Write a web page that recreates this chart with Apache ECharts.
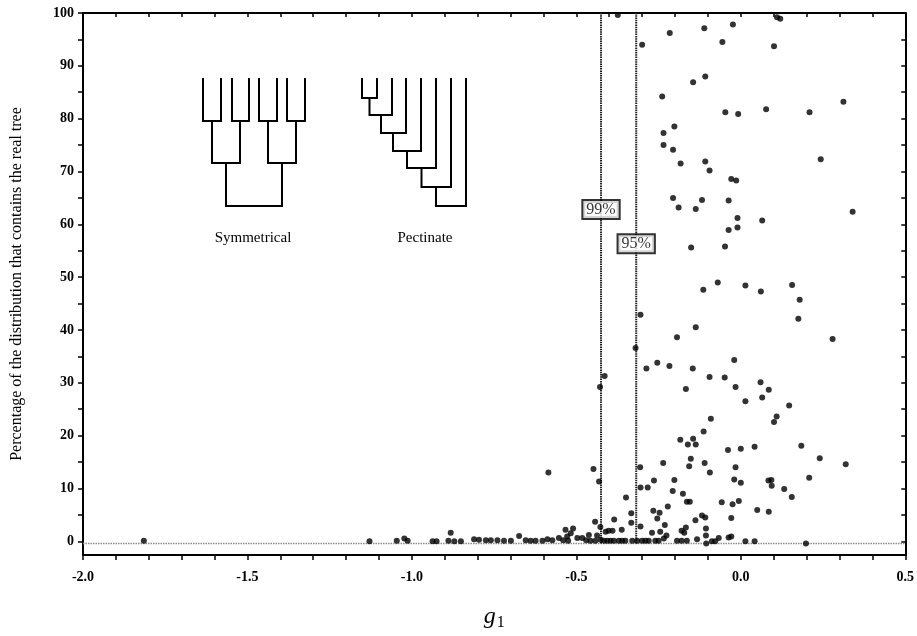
<!DOCTYPE html>
<html>
<head>
<meta charset="utf-8">
<script src="https://cdn.jsdelivr.net/npm/echarts@6/dist/echarts.min.js"></script>
<style>html,body{margin:0;padding:0;background:#fff}#c{width:917px;height:636px}</style>
</head>
<body>
<div id="c"></div>
<script>
// g1 statistic of each tree
const g1Values = [
 -0.374, 0.110, 0.120, -0.024, -0.111, -0.216, -0.056, -0.300, 0.101, -0.108,
 -0.145, -0.239, 0.312, 0.077, -0.047, -0.008, 0.209, -0.202, -0.235, -0.235,
 -0.206, -0.183, -0.108, 0.243, -0.095, -0.029, -0.014, -0.206, -0.118, -0.037,
 -0.189, -0.137, 0.340, -0.010, 0.065, -0.010, -0.037, -0.151, -0.048, -0.070,
 0.014, 0.156, -0.114, 0.061, 0.179, -0.305, 0.175, -0.137, -0.194, 0.279,
 -0.320, -0.020, -0.254, -0.217, -0.287, -0.146, -0.414, -0.095, -0.049, 0.060,
 -0.428, -0.167, -0.016, 0.085, 0.065, 0.014, 0.147, -0.091, 0.109, 0.101,
 -0.113, -0.184, -0.161, -0.145, -0.137, 0.184, -0.039, 0.000, 0.042, 0.240,
 -0.152, 0.319, -0.236, -0.110, -0.448, -0.306, -0.157, -0.016, -0.585, -0.094,
 -0.431, -0.020, 0.208, -0.264, -0.202, 0.000, 0.084, 0.093, 0.094, -0.305,
 -0.283, 0.132, -0.207, -0.176, 0.155, -0.349, -0.164, -0.155, -0.058, -0.025,
 -0.006, -0.222, 0.050, 0.085, -0.266, -0.247, -0.333, -0.254, -0.118, -0.108,
 -0.029, -0.385, -0.443, -0.138, -0.333, -0.231, -0.305, -0.167, -0.106, -0.362,
 -0.402, -0.390, -0.180, -0.245, -0.270, -0.172, -0.226, -0.106, -0.037, -0.029,
 -0.067, -0.437, -0.427, -0.411, -0.462, -0.533, -0.510, -0.517, -0.528, -0.133,
 -1.815, -1.129, -1.046, -1.023, -1.013, -0.937, -0.925, -0.889, -0.882, -0.871,
 -0.851, -0.811, -0.796, -0.775, -0.760, -0.740, -0.720, -0.699, -0.674, -0.654,
 -0.639, -0.624, -0.603, -0.588, -0.573, -0.553, -0.540, -0.525, -0.497, -0.482,
 -0.470, -0.457, -0.442, -0.426, -0.416, -0.406, -0.396, -0.386, -0.371, -0.361,
 -0.351, -0.330, -0.315, -0.300, -0.290, -0.280, -0.260, -0.250, -0.234, -0.194,
 -0.180, -0.164, -0.105, -0.088, -0.078, 0.014, 0.042, 0.198
];
// percentage of the distribution that contains the real tree
const pctValues = [
 99.6, 99.2, 98.9, 97.8, 97.1, 96.2, 94.5, 94.0, 93.7, 88.0,
 86.9, 84.2, 83.2, 81.8, 81.2, 80.9, 81.2, 78.5, 77.3, 75.0,
 74.1, 71.5, 71.9, 72.3, 70.2, 68.6, 68.3, 65.0, 64.6, 64.5,
 63.2, 62.9, 62.4, 61.2, 60.7, 59.4, 58.9, 55.6, 55.8, 49.0,
 48.4, 48.5, 47.6, 47.3, 45.7, 42.9, 42.1, 40.5, 38.6, 38.3,
 36.6, 34.3, 33.8, 33.2, 32.7, 32.7, 31.3, 31.1, 31.0, 30.1,
 29.2, 28.8, 29.2, 28.7, 27.2, 26.5, 25.7, 23.2, 23.6, 22.6,
 20.8, 19.2, 18.3, 19.4, 18.3, 18.1, 17.3, 17.5, 17.9, 15.7,
 15.6, 14.6, 14.8, 14.8, 13.7, 14.0, 14.2, 14.0, 13.0, 13.0,
 11.3, 11.7, 12.0, 11.5, 11.6, 11.1, 11.5, 11.6, 10.5, 10.2,
 10.2, 9.9, 9.5, 9.0, 8.4, 8.3, 7.5, 7.5, 7.4, 7.0,
 7.6, 6.6, 5.9, 5.6, 5.8, 5.4, 5.3, 4.3, 4.9, 4.5,
 4.4, 4.1, 3.7, 4.0, 3.5, 3.1, 2.8, 2.6, 2.4, 2.2,
 2.0, 2.0, 2.0, 1.8, 1.6, 1.6, 1.1, 1.1, 0.7, 0.9,
 0.6, 1.1, 2.7, 1.8, 1.2, 2.2, 2.4, 1.5, 0.9, 0.4,
 0.1, 0.0, 0.1, 0.5, 0.1, 0.0, 0.0, 0.1, 1.6, 0.0,
 0.0, 0.4, 0.3, 0.2, 0.2, 0.2, 0.1, 0.1, 1.0, 0.2,
 0.1, 0.1, 0.1, 0.4, 0.2, 0.6, 0.2, 0.1, 0.6, 0.6,
 0.2, 0.1, 0.1, 0.3, 0.1, 0.1, 0.1, 0.1, 0.1, 0.1,
 0.1, 0.1, 0.1, 0.1, 0.1, 0.1, 0.1, 0.1, 0.5, 0.1,
 0.1, 0.1, -0.4, 0.0, 0.0, 0.0, 0.0, -0.4
];
// critical values of g1
const criticalG1 = [-0.425, -0.318];
const criticalLabels = ['99%', '95%'];
const criticalLabelPct = [62.8, 56.3];
const baselinePct = -0.4;
// axis ticks
const xLabelValues = [-2.0, -1.5, -1.0, -0.5, 0.0, 0.5];
const xTickValues = [-2.0,-1.9,-1.8,-1.7,-1.6,-1.5,-1.4,-1.3,-1.2,-1.1,-1.0,-0.9,-0.8,-0.7,-0.6,-0.5,-0.4,-0.3,-0.2,-0.1,0.0,0.1,0.2,0.3,0.4,0.5];
const yLabelValues = [0,10,20,30,40,50,60,70,80,90,100];
const yTickValues = [0,5,10,15,20,25,30,35,40,45,50,55,60,65,70,75,80,85,90,95,100];
const treeNames = ['Symmetrical', 'Pectinate'];

const SERIF = '"Liberation Serif","DejaVu Serif",serif';
const chart = echarts.init(document.getElementById('c'), null, {renderer: 'canvas'});
const points = g1Values.map((g, i) => [g, pctValues[i]]);

const series = [
  {
    type: 'line', data: [[-2, baselinePct], [0.5, baselinePct]],
    symbol: 'none', silent: true, z: 1,
    lineStyle: {color: '#8a8a8a', width: 1.5, type: [1.5, 1]}
  }
];
criticalG1.forEach((g, i) => {
  series.push({
    type: 'line', data: [[g, baselinePct], [g, 100]],
    symbol: 'none', silent: true, z: 2,
    lineStyle: {color: '#222', width: 2, type: [1.5, 0.8]}
  });
});
series.push({
  type: 'scatter', data: points, symbol: 'circle', symbolSize: 6, z: 5,
  itemStyle: {color: '#000'}
});
series.push({
  type: 'scatter', z: 6,
  data: criticalG1.map((g, i) => ({value: [g, criticalLabelPct[i]], label: {formatter: criticalLabels[i]}})),
  symbolSize: 0,
  label: {
    show: true, position: 'inside', color: '#000', fontFamily: SERIF, fontSize: 16,
    backgroundColor: '#fff', borderColor: '#000', borderWidth: 2, padding: [1, 3, 0, 3]
  }
});

function U(pts){ return {type: 'polyline', shape: {points: pts}, style: {stroke: '#000', lineWidth: 2, fill: null}}; }
const treeGraphics = [
  U([[203,78],[203,121],[221,121],[221,78]]),
  U([[232,78],[232,121],[249,121],[249,78]]),
  U([[259,78],[259,121],[277,121],[277,78]]),
  U([[287,78],[287,121],[305,121],[305,78]]),
  U([[212,121],[212,163],[240,163],[240,121]]),
  U([[268,121],[268,163],[296,163],[296,121]]),
  U([[226,163],[226,206],[282,206],[282,163]]),
  U([[362,78],[362,98],[377,98],[377,78]]),
  U([[369.5,98],[369.5,115],[392,115],[392,78]]),
  U([[381,115],[381,133],[406,133],[406,78]]),
  U([[393,133],[393,151],[421,151],[421,78]]),
  U([[407,151],[407,168],[436,168],[436,78]]),
  U([[421.5,168],[421.5,187],[451,187],[451,78]]),
  U([[436,187],[436,206],[466,206],[466,78]]),
  {type: 'text', x: 253, y: 238, style: {text: treeNames[0], font: '15px ' + SERIF, fill: '#000', align: 'center', verticalAlign: 'middle'}},
  {type: 'text', x: 425, y: 238, style: {text: treeNames[1], font: '15px ' + SERIF, fill: '#000', align: 'center', verticalAlign: 'middle'}}
];

const axisLine = {show: true, onZero: false, lineStyle: {color: '#000', width: 2}};
chart.setOption({
  animation: false,
  backgroundColor: '#fff',
  grid: {left: 83, right: 10, top: 13, bottom: 74, containLabel: false},
  xAxis: [
    {
      type: 'value', min: -2, max: 0.5, interval: 0.5, position: 'bottom',
      axisLine: axisLine, splitLine: {show: false},
      axisTick: {show: true, inside: false, length: 5, lineStyle: {color: '#000', width: 1.5}, customValues: xTickValues},
      axisLabel: {color: '#000', fontFamily: SERIF, fontWeight: 'bold', fontSize: 14, margin: 15,
        customValues: xLabelValues, formatter: v => v.toFixed(1)},
      name: '{g|g}{s|1}', nameLocation: 'middle', nameGap: 48,
      nameTextStyle: {rich: {
        g: {fontFamily: SERIF, fontStyle: 'italic', fontSize: 24, color: '#000'},
        s: {fontFamily: SERIF, fontSize: 16, color: '#000', verticalAlign: 'bottom', padding: [12, 0, 0, 1]}
      }}
    },
    {
      type: 'value', min: -2, max: 0.5, interval: 0.5, position: 'top',
      axisLine: axisLine, splitLine: {show: false},
      axisTick: {show: true, inside: true, length: 4, lineStyle: {color: '#000', width: 1.5}, customValues: xTickValues},
      axisLabel: {show: false}
    }
  ],
  yAxis: [
    {
      type: 'value', min: -2.6, max: 100, position: 'left',
      axisLine: axisLine, splitLine: {show: false},
      axisTick: {show: true, inside: false, length: 5, lineStyle: {color: '#000', width: 1.5}, customValues: yTickValues},
      axisLabel: {color: '#000', fontFamily: SERIF, fontWeight: 'bold', fontSize: 14, margin: 9, customValues: yLabelValues},
      name: 'Percentage of the distribution that contains the real tree',
      nameLocation: 'middle', nameGap: 58,
      nameTextStyle: {fontFamily: SERIF, fontSize: 16, color: '#000'}
    },
    {
      type: 'value', min: -2.6, max: 100, position: 'right',
      axisLine: axisLine, splitLine: {show: false},
      axisTick: {show: true, inside: true, length: 4, lineStyle: {color: '#000', width: 1.5}, customValues: yTickValues},
      axisLabel: {show: false}
    }
  ],
  series: series,
  graphic: treeGraphics
});
</script>
</body>
</html>
